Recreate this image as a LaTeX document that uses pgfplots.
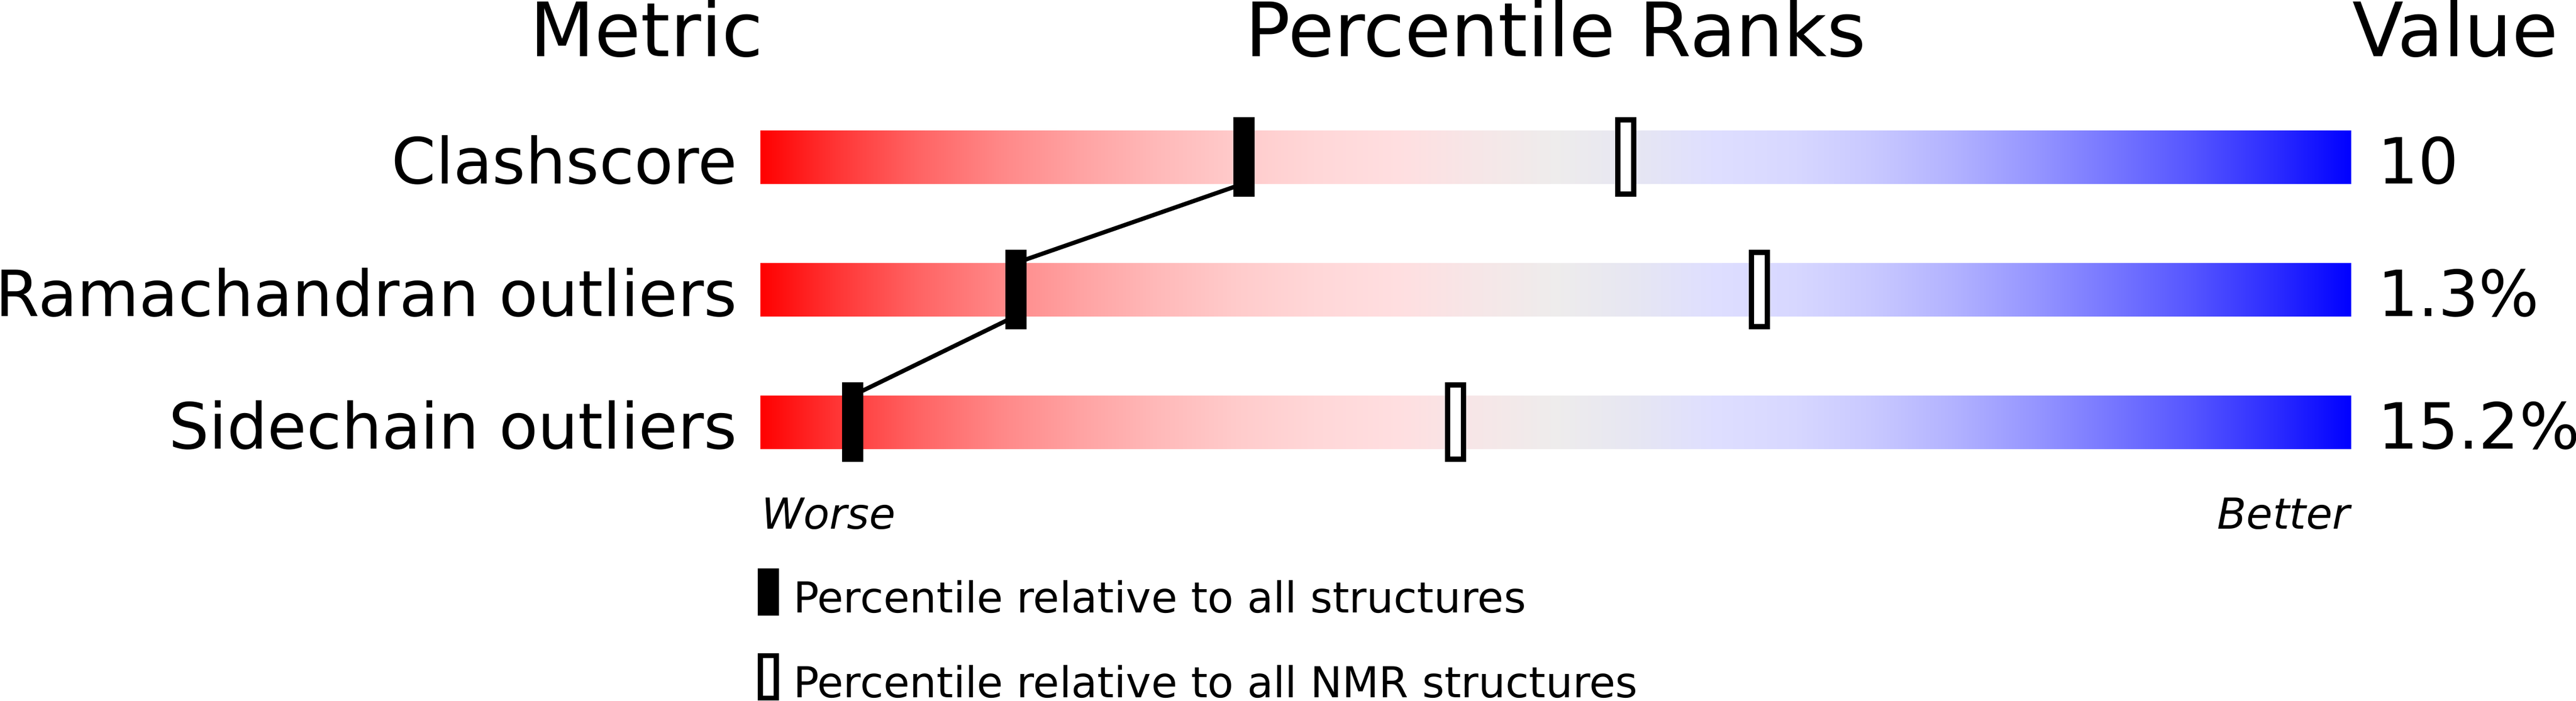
\documentclass[border=0pt]{standalone}
\usepackage{fontspec}
\setmainfont{DejaVu Sans}
\usepackage{pgfplots}
\usepackage{pgfplotstable}
\pgfplotsset{compat=1.18}

% slider gradient: percentile p -> 25 + p/2 bp
\pgfdeclarehorizontalshading{slider}{100bp}{%
rgb(0bp)=(1,0,0);
rgb(25bp)=(1,0,0);
rgb(27.5bp)=(1,0.216,0.216);
rgb(30bp)=(1,0.392,0.392);
rgb(32.5bp)=(1,0.529,0.529);
rgb(35bp)=(1,0.635,0.635);
rgb(37.5bp)=(1,0.725,0.725);
rgb(40bp)=(1,0.796,0.796);
rgb(42.5bp)=(1,0.843,0.847);
rgb(45bp)=(1,0.871,0.878);
rgb(47.5bp)=(0.965,0.902,0.906);
rgb(50bp)=(0.933,0.925,0.925);
rgb(52.5bp)=(0.902,0.902,0.949);
rgb(55bp)=(0.871,0.871,1);
rgb(57.5bp)=(0.843,0.843,1);
rgb(60bp)=(0.784,0.784,1);
rgb(62.5bp)=(0.698,0.698,1);
rgb(65bp)=(0.588,0.588,1);
rgb(67.5bp)=(0.463,0.463,1);
rgb(70bp)=(0.333,0.333,1);
rgb(72.5bp)=(0.176,0.176,1);
rgb(75bp)=(0,0,1);
rgb(100bp)=(0,0,1)}

\pgfdeclareplotmark{pinfull}{%
  \pgfpathrectangle{\pgfpoint{-2pt}{-7.5pt}}{\pgfpoint{4pt}{15pt}}%
  \pgfusepathqfill}
\pgfdeclareplotmark{pinopen}{%
  \pgfpathrectangle{\pgfpoint{-1.5pt}{-7pt}}{\pgfpoint{3pt}{14pt}}%
  \pgfusepathqfillstroke}
\pgfdeclareplotmark{legfull}{%
  \pgfpathrectangle{\pgfpoint{-2pt}{-4.45pt}}{\pgfpoint{4pt}{8.9pt}}%
  \pgfusepathqfill}
\pgfdeclareplotmark{legopen}{%
  \pgfpathrectangle{\pgfpoint{-1.5pt}{-3.98pt}}{\pgfpoint{3pt}{7.96pt}}%
  \pgfusepathqfillstroke}

\pgfplotstableread{
row all nmr
1 30.4 54.4
2 16.05 62.8
3 5.8 43.7
}\pct

\begin{document}
\begin{tikzpicture}
\useasboundingbox (0,0) rectangle (485.8pt,132.1pt);
\begin{axis}[
  at={(0,0)}, anchor=south west,
  scale only axis, width=485.8pt, height=132.1pt,
  xmin=-47.8, xmax=114.1333,
  ymin=-0.184, ymax=5.1, y dir=reverse,
  hide axis, clip=false,
]
% gradient bars
\addplot[draw=none, shade, shading=slider] coordinates {(0,0.8) (100,0.8) (100,1.2) (0,1.2)} -- cycle;
\addplot[draw=none, shade, shading=slider] coordinates {(0,1.8) (100,1.8) (100,2.2) (0,2.2)} -- cycle;
\addplot[draw=none, shade, shading=slider] coordinates {(0,2.8) (100,2.8) (100,3.2) (0,3.2)} -- cycle;
% connecting line
\addplot[black, line width=0.8pt, mark=none] coordinates {(30.4,1.2) (16.05,1.8) (16.05,2.2) (5.8,2.8)};
% markers
\addplot[only marks, mark=pinfull, mark options={fill=black, draw=none}] table[x=all, y=row]{\pct};
\addplot[only marks, mark=pinopen, mark options={fill=white, draw=black, line width=1pt, miter limit=10}] table[x=nmr, y=row]{\pct};
% legend keys
\addplot[only marks, mark=legfull, mark options={fill=black, draw=none}] coordinates {(0.5,4.282)};
\addplot[only marks, mark=legopen, mark options={fill=white, draw=black, line width=0.95pt}] coordinates {(0.5,4.922)};

% headers
\node[anchor=base east, inner sep=0pt, font=\fontsize{14.15}{16}\selectfont] at (axis cs:0.25,0.24) {Metric};
\node[anchor=base, inner sep=0pt, font=\fontsize{14.15}{16}\selectfont] at (axis cs:50,0.24) {Percentile Ranks};
\node[anchor=base west, inner sep=0pt, font=\fontsize{14.15}{16}\selectfont] at (axis cs:100,0.24) {Value};
% row labels
\node[anchor=base east, inner sep=0pt, font=\fontsize{12}{14}\selectfont] at (axis cs:-1.4,1.2) {Clashscore};
\node[anchor=base east, inner sep=0pt, font=\fontsize{12}{14}\selectfont] at (axis cs:-1.4,2.2) {Ramachandran outliers};
\node[anchor=base east, inner sep=0pt, font=\fontsize{12}{14}\selectfont] at (axis cs:-1.4,3.2) {Sidechain outliers};
% values
\node[anchor=base west, inner sep=0pt, font=\fontsize{12}{14}\selectfont] at (axis cs:101.6,1.2) {10};
\node[anchor=base west, inner sep=0pt, font=\fontsize{12}{14}\selectfont] at (axis cs:101.6,2.2) {1.3\%};
\node[anchor=base west, inner sep=0pt, font=\fontsize{12}{14}\selectfont] at (axis cs:101.6,3.2) {15.2\%};
% worse / better
\node[anchor=base west, inner sep=0pt, font=\fontsize{8.05}{10}\selectfont\itshape] at (axis cs:0,3.804) {Worse};
\node[anchor=base east, inner sep=0pt, font=\fontsize{8.05}{10}\selectfont\itshape] at (axis cs:100,3.804) {Better};
% legend text
\node[anchor=base west, inner sep=0pt, font=\fontsize{8.03}{9}\selectfont] at (axis cs:2.0,4.436) {Percentile relative to all structures};
\node[anchor=base west, inner sep=0pt, font=\fontsize{8.03}{9}\selectfont] at (axis cs:2.0,5.076) {Percentile relative to all NMR structures};
\end{axis}
\end{tikzpicture}
\end{document}
